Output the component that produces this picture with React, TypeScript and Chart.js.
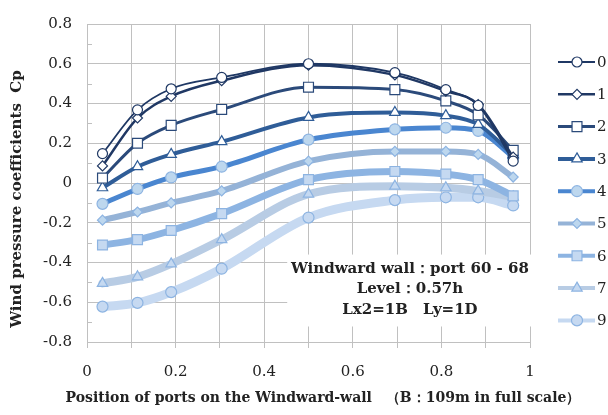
import React, { useEffect, useRef } from "react";
import { Chart, registerables } from "chart.js";
import { drawPoint } from "chart.js/helpers";

Chart.register(...registerables);

// ---- data ----
const positions = [0.035, 0.114, 0.19, 0.304, 0.5, 0.695, 0.81, 0.883, 0.962];
const seriesNames = ["0", "1", "2", "3", "4", "5", "6", "7", "9"];
const cp0 = [0.148, 0.368, 0.474, 0.531, 0.6, 0.555, 0.47, 0.39, 0.11];
const cp1 = [0.086, 0.327, 0.436, 0.515, 0.593, 0.544, 0.462, 0.395, 0.13];
const cp2 = [0.025, 0.2, 0.29, 0.37, 0.482, 0.47, 0.413, 0.343, 0.164];
const cp3 = [-0.024, 0.082, 0.144, 0.208, 0.33, 0.355, 0.339, 0.295, 0.14];
const cp4 = [-0.105, -0.03, 0.028, 0.082, 0.218, 0.27, 0.278, 0.262, 0.13];
const cp5 = [-0.187, -0.146, -0.1, -0.04, 0.11, 0.159, 0.159, 0.144, 0.03];
const cp6 = [-0.312, -0.285, -0.239, -0.154, 0.017, 0.058, 0.045, 0.017, -0.065];
const cp7 = [-0.505, -0.472, -0.407, -0.285, -0.056, -0.016, -0.024, -0.04, -0.07];
const cp9 = [-0.622, -0.603, -0.549, -0.431, -0.174, -0.086, -0.072, -0.072, -0.113];
const seriesValues = [cp0, cp1, cp2, cp3, cp4, cp5, cp6, cp7, cp9];

const yMinorTicks = [-0.7, -0.5, -0.3, -0.1, 0.1, 0.3, 0.5, 0.7];
const xTitle = "Position of ports on the Windward-wall　（B：109m in full scale）";
const yTitle = "Wind pressure coefficients  Cp";
const noteLines = ["Windward wall：port 60 - 68", "Level：0.57h", "Lx2=1B　Ly=1D"];

// ---- styles ----
const FONT = "'DejaVu Serif', serif";
const GRID = "#c0c0c0";
const TEXT = "#222";
const styles = [
  { line: "#1f3864", width: 1.8, shape: "circle", r: 5, fill: "#ffffff", edge: "#1f3864" },
  { line: "#203864", width: 2.5, shape: "rectRot", r: 5, fill: "#ffffff", edge: "#203864" },
  { line: "#2b4a7a", width: 3, shape: "rect", r: 7, fill: "#ffffff", edge: "#2b4a7a" },
  { line: "#2f5d98", width: 4, shape: "triangle", r: 6, fill: "#ffffff", edge: "#2f5d98" },
  { line: "#4a86d0", width: 5, shape: "circle", r: 5.5, fill: "#bdd7ee", edge: "#8db4e2" },
  { line: "#95b3d7", width: 6, shape: "rectRot", r: 5, fill: "#bdd7ee", edge: "#8db4e2" },
  { line: "#8db4e2", width: 7, shape: "rect", r: 7, fill: "#c5d9f1", edge: "#8db4e2" },
  { line: "#b8cce4", width: 8, shape: "triangle", r: 6, fill: "#c5d9f1", edge: "#8db4e2" },
  { line: "#c6d9f1", width: 9, shape: "circle", r: 5.5, fill: "#c6d9f1", edge: "#8db4e2" },
];

const overlayPlugin = {
  id: "overlay",
  beforeDatasetsDraw(chart: any) {
    const { ctx, chartArea } = chart;
    const x = chart.scales.x;
    const y = chart.scales.y;
    ctx.save();
    // minor inside ticks on the y axis
    ctx.strokeStyle = GRID;
    ctx.lineWidth = 1;
    for (const v of yMinorTicks) {
      const py = Math.round(y.getPixelForValue(v)) + 0.5;
      ctx.beginPath();
      ctx.moveTo(chartArea.left, py);
      ctx.lineTo(chartArea.left + 5, py);
      ctx.stroke();
    }
    // annotation box
    const bx0 = x.getPixelForValue(0.452);
    const bx1 = x.getPixelForValue(1.006);
    const by0 = y.getPixelForValue(-0.36);
    const by1 = y.getPixelForValue(-0.722);
    ctx.fillStyle = "#ffffff";
    ctx.fillRect(bx0, by0, bx1 - bx0, by1 - by0);
    ctx.restore();
  },
  afterDraw(chart: any) {
    const { ctx, chartArea } = chart as any;
    const x = chart.scales.x;
    const y = chart.scales.y;
    ctx.save();
    // annotation text
    ctx.fillStyle = TEXT;
    ctx.font = `bold 15px ${FONT}`;
    ctx.textAlign = "center";
    ctx.textBaseline = "middle";
    const cx = x.getPixelForValue(0.729);
    noteLines.forEach((t, i) => {
      ctx.fillText(t, cx, y.getPixelForValue(-0.433 - i * 0.103));
    });
    // axis titles
    ctx.font = `bold 14px ${FONT}`;
    ctx.fillText(xTitle, chartArea.left + 236, chartArea.bottom + 56);
    ctx.font = `bold 15px ${FONT}`;
    ctx.save();
    ctx.translate(17, chartArea.top + 175);
    ctx.rotate(-Math.PI / 2);
    ctx.fillText(yTitle, 0, 0);
    ctx.restore();
    // legend
    const lx = chartArea.right + 28;
    chart.data.datasets.forEach((ds: any, i: number) => {
      const st = styles[i];
      const ly = chartArea.top + 38 + i * 32.3;
      ctx.strokeStyle = st.line;
      ctx.lineWidth = Math.min(st.width, 4);
      ctx.beginPath();
      ctx.moveTo(lx, ly);
      ctx.lineTo(lx + 37, ly);
      ctx.stroke();
      ctx.fillStyle = st.fill;
      ctx.strokeStyle = st.edge;
      ctx.lineWidth = 1.2;
      drawPoint(ctx, { pointStyle: st.shape, rotation: 0, radius: st.r, borderWidth: 1.2 } as any, lx + 19, ly);
      ctx.fillStyle = TEXT;
      ctx.font = `15px ${FONT}`;
      ctx.textAlign = "left";
      ctx.textBaseline = "middle";
      ctx.fillText(ds.label, lx + 39, ly + 1);
    });
    ctx.restore();
  },
};

export default function App() {
  const ref = useRef<HTMLCanvasElement>(null);
  useEffect(() => {
    const canvas = ref.current!;
    const datasets = seriesValues.map((vals, i) => {
      const st = styles[i];
      return {
        label: seriesNames[i],
        data: positions.map((p, k) => ({ x: p, y: vals[k] })),
        borderColor: st.line,
        borderWidth: st.width,
        backgroundColor: st.fill,
        pointStyle: st.shape,
        pointRadius: st.r,
        pointBackgroundColor: st.fill,
        pointBorderColor: st.edge,
        pointBorderWidth: 1.2,
        cubicInterpolationMode: "monotone",
        borderCapStyle: "round",
        borderJoinStyle: "round",
        fill: false,
      };
    });
    const chart = new Chart(canvas, {
      type: "line",
      data: { datasets } as any,
      plugins: [overlayPlugin],
      options: {
        animation: false,
        responsive: false,
        devicePixelRatio: 1,
        layout: { padding: { top: 15, right: 78, left: 0, bottom: 0 } },
        plugins: { legend: { display: false }, tooltip: { enabled: false } },
        scales: {
          x: {
            type: "linear",
            min: 0,
            max: 1,
            afterFit: (s: any) => {
              s.height = 73;
            },
            grid: { color: GRID, tickLength: 6, drawTicks: true, tickColor: GRID },
            border: { color: GRID },
            ticks: {
              stepSize: 0.1,
              autoSkip: false,
              maxRotation: 0,
              padding: 15,
              color: TEXT,
              font: { family: FONT, size: 15 },
              callback: (v: any) => {
                const n = Math.round(Number(v) * 10);
                if (n % 2 !== 0) return "";
                if (n === 0) return "0";
                if (n === 10) return "1";
                return (n / 10).toFixed(1);
              },
            },
          },
          y: {
            min: -0.8,
            max: 0.8,
            afterFit: (s: any) => {
              s.width = 87;
            },
            grid: { color: GRID, drawTicks: false },
            border: { color: GRID },
            ticks: {
              stepSize: 0.2,
              padding: 15,
              color: TEXT,
              font: { family: FONT, size: 15 },
              callback: (v: any) => {
                const n = Math.round(Number(v) * 10);
                if (n === 0) return "0";
                return (n / 10).toFixed(1);
              },
            },
          },
        },
      } as any,
    });
    return () => chart.destroy();
  }, []);
  return (
    <div style={{ position: "fixed", left: 0, top: 0, width: 608, height: 415, background: "#fff" }}>
      <canvas ref={ref} width={608} height={415} style={{ display: "block", width: 608, height: 415 }} />
    </div>
  );
}
